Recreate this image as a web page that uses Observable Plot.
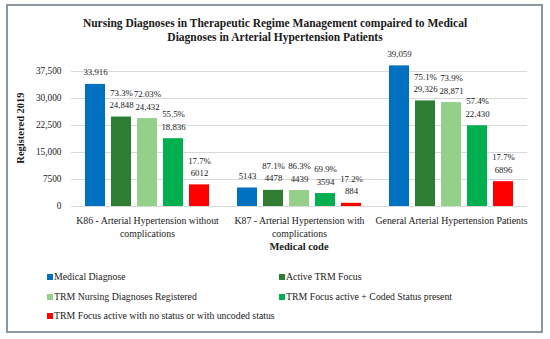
<!DOCTYPE html>
<html>
<head>
<meta charset="utf-8">
<script src="https://cdn.jsdelivr.net/npm/d3@7"></script>
<script src="https://cdn.jsdelivr.net/npm/@observablehq/plot@0.6"></script>
<style>
  html, body { margin: 0; padding: 0; background: #fff; }
  #wrap { position: relative; width: 550px; height: 339px; background: #fff; font-family: "Liberation Serif", serif; color: #1a1a1a; overflow: hidden; }
  .frame { position: absolute; left: 6px; top: 4px; width: 533px; height: 325px; border: 2px solid #8a97a1; box-sizing: content-box; }
  .title { position: absolute; left: 0; top: 16px; width: 550px; text-align: center; font-weight: bold; font-size: 11.5px; line-height: 14px; }
  #chart { position: absolute; left: 0; top: 45px; }
  .xlabel { position: absolute; left: 199px; width: 200px; top: 240px; text-align: center; font-weight: bold; font-size: 10.5px; line-height: 14px; }
  .ylabel { position: absolute; left: 20px; top: 128px; transform: translate(-50%, -50%) rotate(-90deg); font-weight: bold; font-size: 10.5px; white-space: nowrap; }
  .leg { position: absolute; font-size: 9.8px; line-height: 14px; white-space: nowrap; }
  .leg i { position: absolute; left: -7px; top: 4px; width: 6px; height: 6px; }
</style>
</head>
<body>
<div id="wrap">
  <div class="frame"></div>
  <div class="title">Nursing Diagnoses in Therapeutic Regime Management compaired to Medical<br>Diagnoses in Arterial Hypertension Patients</div>
  <div id="chart"></div>
  <div class="xlabel">Medical code</div>
  <div class="ylabel">Registered 2019</div>
  <div id="legend"></div>
</div>
<script>
const categories = [
  "K86 - Arterial Hypertension without complications",
  "K87 - Arterial Hypertension with complications",
  "General Arterial Hypertension Patients"
];
const categoryLabels = [
  "K86 - Arterial Hypertension without\ncomplications",
  "K87 - Arterial Hypertension with\ncomplications",
  "General Arterial Hypertension Patients"
];
const series = [
  "Medical Diagnose",
  "Active TRM Focus",
  "TRM Nursing Diagnoses Registered",
  "TRM Focus active + Coded Status present",
  "TRM Focus active with no status or with uncoded status"
];
const colors = ["#0070C0", "#2E7D32", "#95D08A", "#00B050", "#FF0000"];

const medicalDiagnose = [33916, 5143, 39059];
const activeTRM = [24848, 4478, 29326];
const trmNursing = [24432, 4439, 28871];
const codedStatus = [18836, 3594, 22430];
const noStatus = [6012, 884, 6896];

const activeTRMPct = ["73.3%", "87.1%", "75.1%"];
const trmNursingPct = ["72.03%", "86.3%", "73.9%"];
const codedStatusPct = ["55.5%", "69.9%", "57.4%"];
const noStatusPct = ["17.7%", "17.2%", "17.7%"];

const yTicks = [0, 7500, 15000, 22500, 30000, 37500];
const yTickLabels = ["0", "7500", "15,000", "22,500", "30,000", "37,500"];

const seriesValues = [medicalDiagnose, activeTRM, trmNursing, codedStatus, noStatus];
const seriesPcts = [null, activeTRMPct, trmNursingPct, codedStatusPct, noStatusPct];

const fmt = v => v >= 10000 ? d3.format(",")(v) : String(v);

const data = [];
series.forEach((s, i) => {
  categories.forEach((c, j) => {
    const v = seriesValues[i][j];
    const p = seriesPcts[i] ? seriesPcts[i][j] : null;
    data.push({cat: c, series: s, value: v, label: p ? p + "\n" + fmt(v) : fmt(v)});
  });
});

const chart = Plot.plot({
  width: 550,
  height: 215,
  marginLeft: 70,
  marginRight: 22,
  marginTop: 17,
  marginBottom: 54,
  style: {fontFamily: "'Liberation Serif', serif", fontSize: "10px", color: "#1a1a1a", background: "transparent"},
  fx: {domain: categories, padding: 0, label: null},
  x: {domain: series, paddingInner: 0.222, paddingOuter: 0.435, axis: null},
  y: {domain: [0, 40000], axis: null},
  color: {domain: series, range: colors},
  marks: [
    Plot.gridY(yTicks, {stroke: "#d9d9d9", strokeOpacity: 1}),
    Plot.barY(data, {fx: "cat", x: "series", y: "value", fill: "series"}),
    Plot.text(data, {fx: "cat", x: "series", y: "value", text: "label", lineAnchor: "bottom", dy: -9, lineHeight: 1.4, fontSize: 8.8, fill: "#1a1a1a"}),
    Plot.axisY({ticks: yTicks, tickFormat: d => yTickLabels[yTicks.indexOf(d)], tickSize: 0, tickPadding: 10, label: null, fontSize: 9.3}),
    Plot.axisFx({anchor: "bottom", tickSize: 0, tickPadding: 8, label: null, fontSize: 9.8, lineHeight: 1.33, tickFormat: d => categoryLabels[categories.indexOf(d)]})
  ]
});
document.getElementById("chart").appendChild(chart);

const legendPos = [
  {x: 54, y: 270}, {x: 286, y: 270},
  {x: 54, y: 290}, {x: 286, y: 290},
  {x: 54, y: 309}
];
const legend = document.getElementById("legend");
series.forEach((s, i) => {
  const d = document.createElement("div");
  d.className = "leg";
  d.style.left = legendPos[i].x + "px";
  d.style.top = legendPos[i].y + "px";
  const sw = document.createElement("i");
  sw.style.background = colors[i];
  d.appendChild(sw);
  d.appendChild(document.createTextNode(s));
  legend.appendChild(d);
});
</script>
</body>
</html>
